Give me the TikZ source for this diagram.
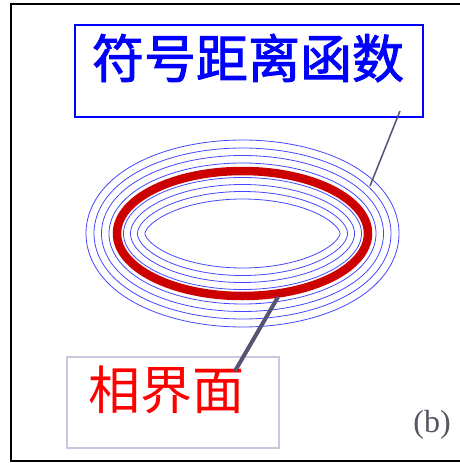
\documentclass[tikz,border=0pt]{standalone}
\usepackage{fontspec}
\setmainfont{Liberation Serif}
\newfontfamily\cjk{Noto Sans CJK SC}
\newfontfamily\cjkb[FakeBold=1.8]{Noto Sans CJK SC}
\definecolor{sdfblue}{RGB}{0,0,255}
\definecolor{ringblue}{RGB}{70,70,255}
\definecolor{ringred}{RGB}{204,0,0}
\definecolor{leadgray}{RGB}{85,85,115}
\definecolor{boxgray}{RGB}{200,200,222}
\definecolor{labgray}{RGB}{85,85,100}
\tikzset{
  sdfbox/.style={draw=sdfblue, line width=1.8pt, minimum width=348pt, minimum height=92pt, inner sep=0pt},
  phbox/.style={draw=boxgray, line width=1.6pt, minimum width=212pt, minimum height=91pt, inner sep=0pt},
  bigtext/.style={inner sep=0pt},
  isoline/.style={draw=ringblue, line width=0.8pt},
  zeroline/.style={draw=ringred, line width=8.5pt},
  leader/.style={draw=leadgray, line cap=butt}
}
\begin{document}
\begin{tikzpicture}[x=1pt,y=-1pt]
\useasboundingbox (0,0) rectangle (460,463);
\begin{scope}
\clip (0,0) rectangle (460,463);
\draw[black, line width=2.5pt] (11,4) rectangle (475,461);
\end{scope}
% iso-contours (offset curves of the zero level ellipse)
\foreach \dd in {8,15.5,23,31,-6.5,-13.5,-20.5,-28}{
  \draw[isoline] plot[domain=0:360, samples=240, smooth cycle] ({242.5+(125.5+\dd*0.625/sqrt(0.390625*cos(\x)*cos(\x)+1.575025*sin(\x)*sin(\x)))*cos(\x)}, {233.5+(62.5+\dd*1.255/sqrt(0.390625*cos(\x)*cos(\x)+1.575025*sin(\x)*sin(\x)))*sin(\x)});
}
\draw[zeroline] (242.5,233.5) ellipse [x radius=125.5, y radius=62.5];
% boxes and texts
\node[sdfbox] (sdf) at (249,71) {};
\node[bigtext, text=sdfblue, font=\cjkb\fontsize{52}{60}\selectfont] (sdft) at (248,58) {符号距离函数};
\node[phbox] (ph) at (173,402.5) {};
\node[bigtext, text=red, font=\cjk\fontsize{52}{60}\selectfont] (pht) at (166.5,390) {相界面};
\node[inner sep=0pt, text=labgray, font=\fontsize{32}{36}\selectfont] (lab) at (432,425) {(b)};
% leaders
\coordinate (l1a) at (400,111);
\coordinate (l1b) at (370,186);
\coordinate (l2a) at (278,297);
\coordinate (l2b) at (235,371);
\draw[leader, line width=1.5pt] (l1a) -- (l1b);
\draw[leader, line width=4pt] (l2a) -- (l2b);
\end{tikzpicture}
\end{document}
